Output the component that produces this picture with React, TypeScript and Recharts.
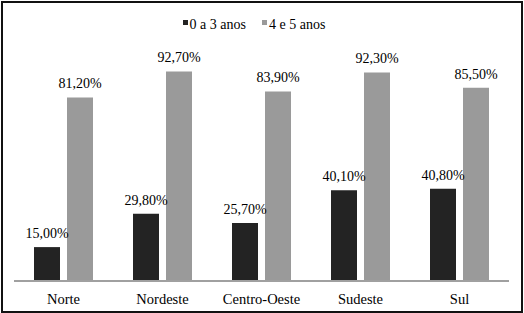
import React from 'react';
import { BarChart, Bar, XAxis, YAxis, Legend, LabelList } from 'recharts';

const regions = ['Norte', 'Nordeste', 'Centro-Oeste', 'Sudeste', 'Sul'];
const age0to3 = [15.0, 29.8, 25.7, 40.1, 40.8];
const age4to5 = [81.2, 92.7, 83.9, 92.3, 85.5];

const data = regions.map((region, i) => ({
  region,
  a: age0to3[i],
  b: age4to5[i],
}));

const DARK = '#232323';
const GRAY = '#9a9a9a';
const FONT = "'Liberation Serif', 'Times New Roman', Times, 'DejaVu Serif', serif";

const pct = (v: any) => `${Number(v).toFixed(2).replace('.', ',')}%`;

const LegendContent = () => (
  <div style={{ display: 'flex', justifyContent: 'center', fontFamily: FONT, fontSize: 14, color: '#000' }}>
    {[
      { label: '0 a 3 anos', color: DARK },
      { label: '4 e 5 anos', color: GRAY },
    ].map((item) => (
      <span key={item.label} style={{ display: 'inline-flex', alignItems: 'center', marginRight: 16 }}>
        <span
          style={{
            display: 'inline-block',
            width: 5,
            height: 5,
            background: item.color,
            marginRight: 2,
            marginTop: -6,
          }}
        />
        {item.label}
      </span>
    ))}
  </div>
);

export default function App() {
  return (
    <div
      style={{
        position: 'absolute',
        left: 0,
        top: 0,
        width: 524,
        height: 313,
        background: '#fff',
        fontFamily: FONT,
      }}
    >
      <div
        style={{
          position: 'absolute',
          left: 1,
          top: 1,
          width: 518,
          height: 308,
          border: '2px solid #111',
        }}
      />
      <BarChart
        width={524}
        height={313}
        data={data}
        margin={{ top: 55, right: 15, bottom: 7, left: 14 }}
        barSize={26}
        barGap={7}
        style={{ fontFamily: FONT }}
      >
        <XAxis
          dataKey="region"
          height={25}
          tickLine={false}
          tickMargin={7}
          axisLine={{ stroke: '#a0a0a0', strokeWidth: 2 }}
          tick={{ fill: '#000', fontFamily: FONT, fontSize: 14.5 }}
          interval={0}
        />
        <YAxis hide domain={[0, 100]} />
        <Legend
          verticalAlign="middle"
          align="center"
          layout="horizontal"
          wrapperStyle={{ top: 17, left: 0, width: 524 }}
          content={<LegendContent />}
        />
        <Bar dataKey="a" fill={DARK} isAnimationActive={false}>
          <LabelList
            dataKey="a"
            position="top"
            offset={9}
            formatter={pct}
            fontFamily={FONT}
            fontSize={14}
            fill="#000"
          />
        </Bar>
        <Bar dataKey="b" fill={GRAY} isAnimationActive={false}>
          <LabelList
            dataKey="b"
            position="top"
            offset={9}
            formatter={pct}
            fontFamily={FONT}
            fontSize={14}
            fill="#000"
          />
        </Bar>
      </BarChart>
    </div>
  );
}
